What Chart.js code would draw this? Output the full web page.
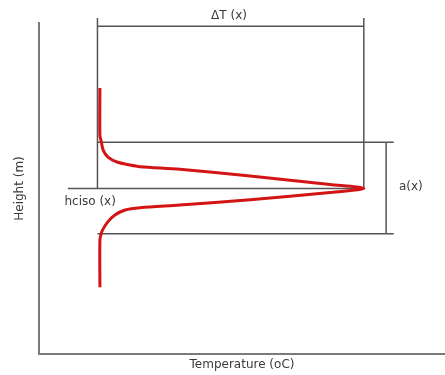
<!DOCTYPE html>
<html>
<head>
<meta charset="utf-8">
<title>Temperature profile</title>
<script src="https://cdn.jsdelivr.net/npm/chart.js@4"></script>
<style>
  body { margin: 0; background: #fff; }
  canvas { display: block; }
</style>
</head>
<body>
<canvas id="myChart" width="445" height="375"></canvas>
<script>
// profile (temperature, height), schematic units 0-100
const profileTemp = [15, 15, 15.3, 15.8, 17, 19.2, 22.4, 24.9, 34.7, 52, 71.7, 80,
                     71.7, 52, 34.7, 24.9, 21.2, 18.7, 17, 15.8, 15.3, 15, 15];
const profileHeight = [80.4, 66, 64.4, 61.6, 59.5, 58, 57.1, 56.6, 55.8, 53.8, 51.2, 50,
                       48.8, 46.6, 45, 44.2, 43.5, 42, 40, 37.8, 36.3, 34.5, 20.2];

// reference levels
const hcisoHeight = 50;
const upperHeight = 64;
const lowerHeight = 36.3;
const deltaTHeight = 99;
const tickTopHeight = 101.5;
const baseTemp = 14.4;
const peakTemp = 80;
const hcisoStartTemp = 7.1;
const bracketTemp = 85.5;
const lineEndTemp = 87.4;

// annotation texts
const labelText = ['ΔT (x)', 'hciso (x)', 'a(x)'];
const labelTemp = [46.8, 12.6, 91.6];
const labelHeight = [102.2, 46, 50.5];

function pts(xs, ys) {
    return xs.map((x, i) => ({ x: x, y: ys[i] }));
}

var grey = '#555555';

function refLine(xs, ys) {
    return {
        data: pts(xs, ys),
        showLine: true,
        borderColor: grey,
        borderWidth: 1.5,
        pointRadius: 0,
        tension: 0,
        clip: false
    };
}

const labelPlugin = {
    id: 'labels',
    afterDatasetsDraw(chart) {
        const c = chart.ctx;
        const xs = chart.scales.x;
        const ys = chart.scales.y;
        c.save();
        c.fillStyle = '#3a3a3a';
        c.font = '12px "DejaVu Sans"';
        c.textAlign = 'center';
        c.textBaseline = 'middle';
        labelText.forEach((t, i) => {
            c.fillText(t, xs.getPixelForValue(labelTemp[i]), ys.getPixelForValue(labelHeight[i]));
        });
        c.restore();
    }
};

const ctx = document.getElementById('myChart');

new Chart(ctx, {
    type: 'scatter',
    data: {
        datasets: [
            {
                data: pts(profileTemp, profileHeight),
                showLine: true,
                borderColor: '#d41414',
                borderWidth: 3,
                pointRadius: 0,
                tension: 0.3,
                clip: false
            },
            // ΔT bracket
            refLine([baseTemp, baseTemp, baseTemp, peakTemp, peakTemp, peakTemp],
                    [hcisoHeight, tickTopHeight, deltaTHeight, deltaTHeight, tickTopHeight, hcisoHeight]),
            // hciso line
            refLine([hcisoStartTemp, peakTemp], [hcisoHeight, hcisoHeight]),
            // upper / lower limits
            refLine([baseTemp, lineEndTemp], [upperHeight, upperHeight]),
            refLine([baseTemp, lineEndTemp], [lowerHeight, lowerHeight]),
            // a(x) bracket
            refLine([bracketTemp, bracketTemp], [upperHeight, lowerHeight])
        ]
    },
    options: {
        responsive: false,
        animation: false,
        devicePixelRatio: 1,
        layout: {
            padding: { top: 23, right: 0, bottom: 0, left: 5 }
        },
        plugins: {
            legend: { display: false },
            tooltip: { enabled: false }
        },
        scales: {
            x: {
                type: 'linear',
                min: 0,
                max: 100,
                ticks: { display: false },
                grid: { display: false, drawTicks: false },
                border: { display: true, color: '#7a7a7a', width: 2 },
                title: {
                    display: true,
                    text: 'Temperature (oC)',
                    color: '#3a3a3a',
                    font: { family: 'DejaVu Sans', size: 12 },
                    padding: { top: 3.8, bottom: 2.8 }
                }
            },
            y: {
                type: 'linear',
                min: 0,
                max: 100,
                ticks: { display: false },
                grid: { display: false, drawTicks: false },
                border: { display: true, color: '#7a7a7a', width: 2 },
                title: {
                    display: true,
                    text: 'Height (m)',
                    color: '#3a3a3a',
                    font: { family: 'DejaVu Sans', size: 12 },
                    padding: { top: 7.8, bottom: 11.8 }
                }
            }
        }
    },
    plugins: [labelPlugin]
});
</script>
</body>
</html>
